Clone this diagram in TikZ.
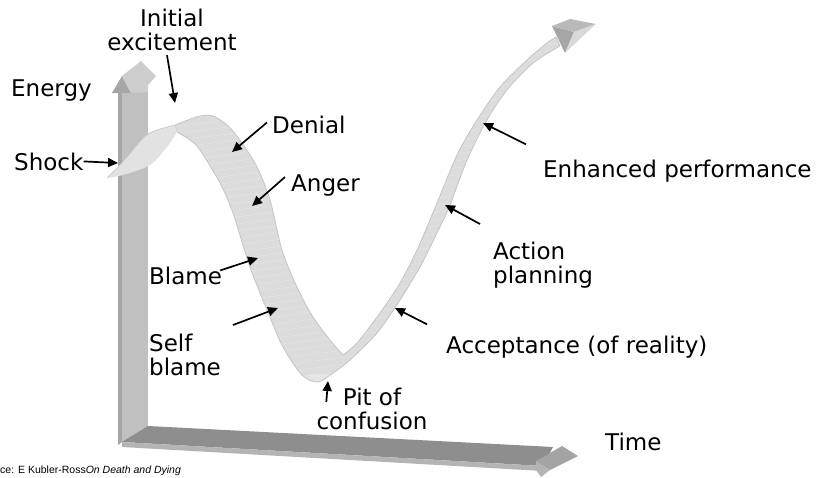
\documentclass[tikz,border=0pt]{standalone}
\usepackage{fontspec}
\setmainfont{DejaVu Sans}
\newfontfamily\srcfont{Liberation Sans}
\usetikzlibrary{arrows.meta,positioning}

\definecolor{ribbon}{HTML}{DCDCDC}
\definecolor{ribbonedge}{HTML}{C4C4C4}
\definecolor{twist}{HTML}{E2E2E2}
\definecolor{barfront}{HTML}{C0C0C0}
\definecolor{barside}{HTML}{A6A6A6}
\definecolor{bartop}{HTML}{8E8E8E}
\definecolor{barlow}{HTML}{B4B4B4}

% outline of the curve ribbon (pixel coordinates, y down)
\newcommand{\ribbonpath}{plot[smooth] coordinates {(175,125) (188,120) (200,116) (213,116) (227,125) (240,140) (257,167) (270,200) (282,250) (297,287) (313,317) (330,340) (343,355)}
  -- plot[smooth] coordinates {(343,355) (357,343) (380,313) (400,283) (417,250) (437,203) (457,155) (477,120) (500,87) (527,60) (547,43) (556,37)}
  -- plot[smooth] coordinates {(560,46) (533,63) (507,90) (487,120) (467,160) (450,205) (437,233) (420,267) (398,303) (377,333) (350,360) (333,373) (318,382) (302,375) (283,347) (267,310) (250,267) (233,213) (220,183) (200,150) (190,140) (177,132)} -- cycle}

\tikzset{
  lbl/.style={inner sep=0pt, font=\fontsize{23}{24}\selectfont},
  ptr/.style={-{Triangle[length=10pt,width=9pt]}, line width=1.7pt},
}

\begin{document}
\begin{tikzpicture}[x=1pt,y=-1pt]
  \useasboundingbox (0,0) rectangle (820,477);

  % energy axis
  \fill[barside] (118,92) -- (122,92) -- (122,442) -- (118,445) -- cycle;
  \fill[barfront] (122,92) -- (148,92) -- (148,442) -- (122,442) -- cycle;
  \fill[barside] (112,93) -- (122,76) -- (131,93) -- cycle;
  \fill[barfront!80!white] (122,76) -- (141,61) -- (156,76) -- (148,85) -- (148,92) -- (131,93) -- cycle;

  % time axis
  \fill[bartop] (122,442) -- (148,426) -- (553,447) -- (543,466) -- cycle;
  \fill[barlow] (122,442) -- (543,466) -- (543,471) -- (122,447) -- cycle;
  \fill[bartop!80!white] (536,461) -- (562,446) -- (578,456) -- (550,470) -- cycle;
  \fill[barlow] (536,461) -- (550,470) -- (541,477) -- (536,470) -- cycle;

  % ribbon
  \fill[ribbon] \ribbonpath;
  \begin{scope}
    \clip \ribbonpath;
    \foreach \y in {60,67,...,460}
      \draw[white!30!ribbon, line width=0.4pt] (150,\y) -- (620,\y-60);
    \fill[black!8, opacity=0.6] (318,383) ellipse (22 and 9);
  \end{scope}
  \draw[ribbonedge, line width=0.8pt] \ribbonpath;
  \fill[twist] plot[smooth] coordinates {(107,178) (117,168) (127,157) (148,134) (175,125)}
    -- (177,132) -- plot[smooth] coordinates {(177,132) (167,147) (150,165) (123,175) (107,178)} -- cycle;
  \draw[ribbonedge, line width=0.6pt] plot[smooth] coordinates {(107,178) (117,168) (127,157) (148,134) (175,125)};
  \fill[gray!70!white] (552,26) -- (574,32) -- (565,53) -- cycle;
  \fill[gray!55!white] (552,26) -- (570,19) -- (596,24) -- (574,32) -- cycle;
  \fill[gray!30!white] (574,32) -- (596,24) -- (565,53) -- cycle;

  % labels
  \node[lbl, anchor=north, align=center] (init) at (172,9) {Initial\\excitement};
  \node[lbl, anchor=base west] (energy) at (11,96) {Energy};
  \node[lbl, anchor=base west] (shock) at (14,170) {Shock};
  \node[lbl, anchor=base west] (denial) at (272,133) {Denial};
  \node[lbl, anchor=base west] (anger) at (291,191) {Anger};
  \node[lbl, anchor=base west] (blame) at (149,284) {Blame};
  \node[lbl, anchor=north west, align=left] (selfb) at (149,334) {Self\\blame};
  \node[lbl, anchor=north, align=center] (pit) at (372,388) {Pit of\\confusion};
  \node[lbl, anchor=base west] (accept) at (446,353) {Acceptance (of reality)};
  \node[lbl, anchor=north west, align=left] (action) at (493,242) {Action\\planning};
  \node[lbl, anchor=base west] (enh) at (543,177) {Enhanced performance};
  \node[lbl, anchor=base west] (time) at (605,450) {Time};
  \node[anchor=base west, inner sep=0pt, font=\srcfont\fontsize{10.5}{12}\selectfont] (src) at (0,473)
    {ce: E Kubler-Ross\textit{On Death and Dying}};

  % pointers
  \coordinate (initpt) at (175,103);
  \coordinate (shockpt) at (118,163);
  \coordinate (denialpt) at (232,152);
  \coordinate (angerpt) at (252,206);
  \coordinate (blamept) at (258,258);
  \coordinate (selfbtail) at (233,325);
  \coordinate (selfbpt) at (278,308);
  \coordinate (pitpt) at (328,381);
  \coordinate (acceptpt) at (395,308);
  \coordinate (actionpt) at (445,205);
  \coordinate (enhpt) at (483,123);
  \draw[ptr] ([xshift=-5pt,yshift=-4pt]init.south) -- (initpt);
  \draw[ptr] (shock.east) -- (shockpt);
  \draw[ptr] ([xshift=-5pt,yshift=2pt]denial.west) -- (denialpt);
  \draw[ptr] ([xshift=-6pt,yshift=-3pt]anger.north west) -- (angerpt);
  \draw[ptr] ([xshift=-2pt,yshift=5pt]blame.east) -- (blamept);
  \draw[ptr] (selfbtail) -- (selfbpt);
  \draw[ptr] ([xshift=10pt,yshift=-14pt]pit.north west) -- (pitpt);
  \draw[ptr] ([xshift=-19pt,yshift=11pt]accept.north west) -- (acceptpt);
  \draw[ptr] ([xshift=-13pt,yshift=18pt]action.north west) -- (actionpt);
  \draw[ptr] ([xshift=-17pt,yshift=15pt]enh.north west) -- (enhpt);
\end{tikzpicture}
\end{document}
